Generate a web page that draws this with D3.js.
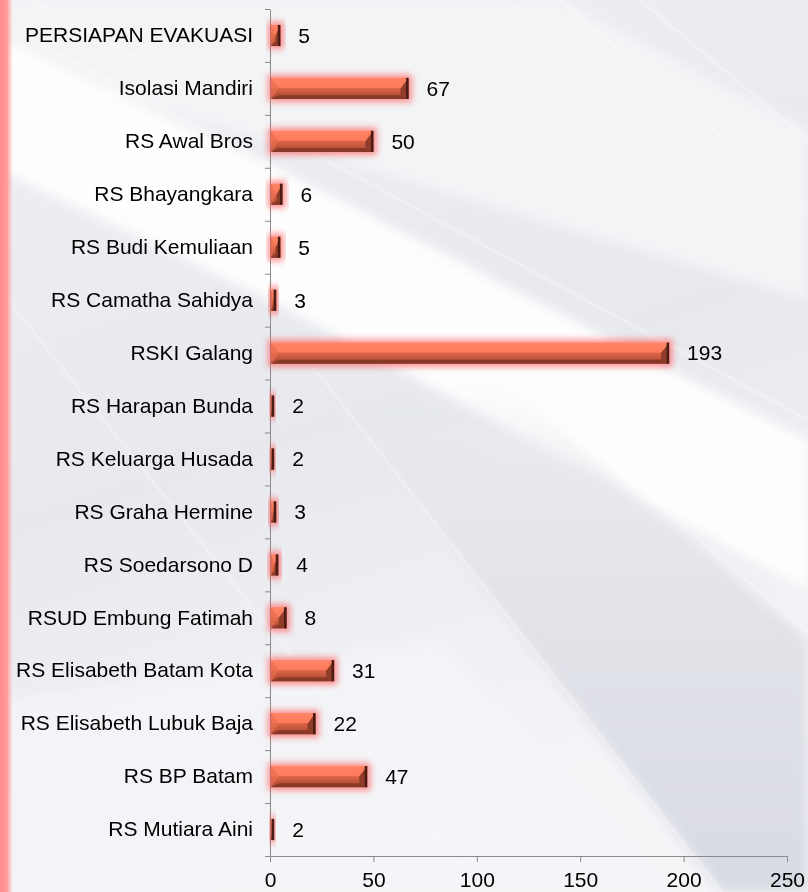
<!DOCTYPE html>
<html>
<head>
<meta charset="utf-8">
<script src="https://cdn.jsdelivr.net/npm/d3@7/dist/d3.min.js"></script>
<style>
  html, body { margin: 0; padding: 0; background: #eceef2; }
  svg { display: block; }
  svg text { font-family: 'Liberation Sans', Arial, sans-serif; }
</style>
</head>
<body>
<svg id="chart" width="808" height="892"></svg>
<script>
const categories = [
  'PERSIAPAN EVAKUASI', 'Isolasi Mandiri', 'RS Awal Bros', 'RS Bhayangkara',
  'RS Budi Kemuliaan', 'RS Camatha Sahidya', 'RSKI Galang', 'RS Harapan Bunda',
  'RS Keluarga Husada', 'RS Graha Hermine', 'RS Soedarsono D', 'RSUD Embung Fatimah',
  'RS Elisabeth Batam Kota', 'RS Elisabeth Lubuk Baja', 'RS BP Batam', 'RS Mutiara Aini'
];
const patients = [5, 67, 50, 6, 5, 3, 193, 2, 2, 3, 4, 8, 31, 22, 47, 2];
const xTicks = [0, 50, 100, 150, 200, 250];

const width = 808, height = 892;
const margin = {top: 9, right: 21, bottom: 36, left: 270};

const svg = d3.select('#chart');
const defs = svg.append('defs');

// background -------------------------------------------------------------
const soft = defs.append('filter').attr('id', 'soft')
  .attr('x', -0.2).attr('y', -0.2).attr('width', 1.4).attr('height', 1.4);
soft.append('feGaussianBlur').attr('stdDeviation', 6);

const thin = defs.append('filter').attr('id', 'thin');
thin.append('feGaussianBlur').attr('stdDeviation', 0.8);

const bg = defs.append('linearGradient').attr('id', 'bg')
  .attr('x1', 0).attr('y1', 0).attr('x2', 0.3).attr('y2', 1);
bg.append('stop').attr('offset', 0).attr('stop-color', '#eff0f3');
bg.append('stop').attr('offset', 0.55).attr('stop-color', '#e7e9ee');
bg.append('stop').attr('offset', 1).attr('stop-color', '#f4f5f7');

const band = defs.append('linearGradient').attr('id', 'darkband')
  .attr('x1', 0).attr('y1', 0).attr('x2', 0).attr('y2', 1);
band.append('stop').attr('offset', 0).attr('stop-color', '#e6e7eb').attr('stop-opacity', 0);
band.append('stop').attr('offset', 0.35).attr('stop-color', '#e4e5ea');
band.append('stop').attr('offset', 1).attr('stop-color', '#d8dae3');

const redEdge = defs.append('linearGradient').attr('id', 'rededge');
redEdge.append('stop').attr('offset', 0).attr('stop-color', '#ff8c8c');
redEdge.append('stop').attr('offset', 0.55).attr('stop-color', '#ff9a9a');
redEdge.append('stop').attr('offset', 1).attr('stop-color', '#ffb4b4').attr('stop-opacity', 0);

svg.append('rect').attr('width', width).attr('height', height).attr('fill', 'url(#bg)');

const shapes = svg.append('g').attr('filter', 'url(#soft)');
// light area top-left
shapes.append('polygon')
  .attr('points', '0,0 560,0 808,130 808,300 0,60')
  .attr('fill', '#f3f4f6');
// bright diagonal band
shapes.append('polygon')
  .attr('points', '0,40 270,165 808,440 808,590 270,300 0,170')
  .attr('fill', '#ffffff').attr('opacity', 0.92);
// darker band in the lower right
shapes.append('polygon')
  .attr('points', '320,380 500,380 808,640 808,892 722,892')
  .attr('fill', 'url(#darkband)');
// light lower-left area
shapes.append('polygon')
  .attr('points', '0,700 440,640 680,892 0,892')
  .attr('fill', '#f4f5f7').attr('opacity', 0.8);

// thin light streaks, running edge to edge
const streaks = svg.append('g').attr('filter', 'url(#thin)');
[[0, 22, 808, 450], [30, 0, 808, 420], [560, 0, 808, 210], [640, 0, 808, 140],
 [300, 350, 722, 892], [500, 370, 808, 633], [0, 290, 480, 892]]
  .forEach(([x1, y1, x2, y2]) => {
    streaks.append('line')
      .attr('x1', x1).attr('y1', y1).attr('x2', x2).attr('y2', y2)
      .attr('stroke', '#ffffff').attr('stroke-width', 2).attr('opacity', 0.45);
  });
svg.append('rect').attr('width', 13).attr('height', height).attr('fill', 'url(#rededge)');

// bar styling --------------------------------------------------------------
const glow = defs.append('filter').attr('id', 'glow')
  .attr('x', -0.5).attr('y', -1).attr('width', 2).attr('height', 3);
glow.append('feMorphology').attr('in', 'SourceAlpha').attr('operator', 'dilate')
  .attr('radius', 3).attr('result', 'grown');
glow.append('feGaussianBlur').attr('in', 'grown').attr('stdDeviation', 3).attr('result', 'blur');
glow.append('feFlood').attr('flood-color', '#ff5656').attr('flood-opacity', 0.65);
glow.append('feComposite').attr('in2', 'blur').attr('operator', 'in').attr('result', 'halo');
const merge = glow.append('feMerge');
merge.append('feMergeNode').attr('in', 'halo');
merge.append('feMergeNode').attr('in', 'SourceGraphic');

const face = defs.append('linearGradient').attr('id', 'face')
  .attr('x1', 0).attr('y1', 0).attr('x2', 0).attr('y2', 1);
face.append('stop').attr('offset', 0).attr('stop-color', '#ff8466');
face.append('stop').attr('offset', 0.45).attr('stop-color', '#ff7a5b');
face.append('stop').attr('offset', 0.5).attr('stop-color', '#dc6447');
face.append('stop').attr('offset', 1).attr('stop-color', '#a4452e');

// scales -------------------------------------------------------------------
const bottom = height - margin.bottom;
const x = d3.scaleLinear().domain([0, 250]).range([margin.left, width - margin.right]);
const y = d3.scaleBand().domain(categories)
  .range([margin.top, bottom])
  .paddingInner(0.6).paddingOuter(0.3);
const boundary = d3.scaleLinear().domain([0, categories.length])
  .range([margin.top, bottom]);

// axes ---------------------------------------------------------------------
svg.append('g')
  .attr('transform', `translate(${margin.left},0)`)
  .call(d3.axisLeft(boundary).tickValues(d3.range(categories.length + 1))
    .tickFormat('').tickSize(5).tickSizeOuter(0))
  .call(g => g.selectAll('line, path').attr('stroke', '#8a8a8a'));

svg.append('g')
  .attr('transform', `translate(${margin.left},0)`)
  .call(d3.axisLeft(y).tickSize(0).tickPadding(17))
  .call(g => g.select('.domain').remove())
  .call(g => g.selectAll('text').attr('font-size', 21).attr('fill', '#000'));

svg.append('g')
  .attr('transform', `translate(0,${bottom})`)
  .call(d3.axisBottom(x).tickValues(xTicks).tickSize(6).tickSizeOuter(0).tickPadding(10))
  .call(g => g.selectAll('line, path').attr('stroke', '#8a8a8a'))
  .call(g => g.selectAll('text').attr('font-size', 21).attr('fill', '#000'));

// bars ---------------------------------------------------------------------
const data = categories.map((name, i) => ({name, value: patients[i]}));
const bars = svg.append('g').selectAll('g.bar')
  .data(data)
  .join('g')
  .attr('class', 'bar')
  .attr('filter', 'url(#glow)');

bars.each(function(d) {
  const g = d3.select(this);
  const x0 = x(0) + 1, x1 = x(d.value), y0 = y(d.name), h = y.bandwidth();
  const w = x1 - x0;
  const b = Math.min(8, w / 2);
  g.append('rect')
    .attr('x', x0).attr('y', y0).attr('width', w).attr('height', h)
    .attr('fill', 'url(#face)');
  // bottom bevel
  g.append('polygon')
    .attr('points', [[x0, y0 + h], [x1, y0 + h], [x1 - b, y0 + h - 4], [x0 + b, y0 + h - 4]].join(' '))
    .attr('fill', '#7e3424').attr('opacity', 0.8);
  // left bevel
  g.append('polygon')
    .attr('points', [[x0, y0], [x0 + b, y0 + h / 2], [x0, y0 + h]].join(' '))
    .attr('fill', '#e86e51').attr('opacity', 0.7);
  // right bevel
  g.append('polygon')
    .attr('points', [[x1, y0], [x1, y0 + h], [x1 - b, y0 + h - 4], [x1 - b, y0 + h / 2]].join(' '))
    .attr('fill', '#8f3d29');
  g.append('rect')
    .attr('x', x1 - Math.min(2.5, w)).attr('y', y0).attr('width', Math.min(2.5, w)).attr('height', h)
    .attr('fill', '#4c1d12');
});

// value labels -------------------------------------------------------------
svg.append('g').selectAll('text')
  .data(data)
  .join('text')
  .attr('x', d => x(d.value) + 18)
  .attr('y', d => y(d.name) + y.bandwidth() / 2)
  .attr('dy', '0.35em')
  .attr('font-size', 21)
  .attr('fill', '#000')
  .text(d => d.value);
</script>
</body>
</html>
